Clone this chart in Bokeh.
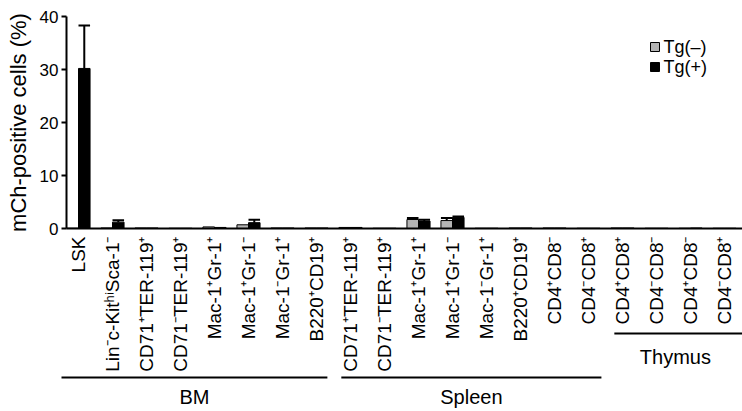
import math
from bokeh.plotting import figure
from bokeh.models import Range1d
from bokeh.core.properties import value
from bokeh.embed import file_html
from bokeh.resources import INLINE

categories = [
    "LSK", "Lin\u207bc-Kit\u02b0\u2071Sca-1\u207b", "CD71\u207aTER-119\u207a", "CD71\u207bTER-119\u207a",
    "Mac-1\u207aGr-1\u207a", "Mac-1\u207aGr-1\u207b", "Mac-1\u207bGr-1\u207a", "B220\u207aCD19\u207a",
    "CD71\u207aTER-119\u207a", "CD71\u207bTER-119\u207a", "Mac-1\u207aGr-1\u207a", "Mac-1\u207aGr-1\u207b",
    "Mac-1\u207bGr-1\u207a", "B220\u207aCD19\u207a", "CD4\u207aCD8\u207b", "CD4\u207bCD8\u207a",
    "CD4\u207aCD8\u207a", "CD4\u207bCD8\u207b", "CD4\u207aCD8\u207b", "CD4\u207bCD8\u207a",
]
tg_neg = [0.05, 0.1, 0.1, 0.05, 0.3, 0.7, 0.1, 0.1, 0.2, 0.05, 1.7, 1.5, 0.05, 0.1, 0.1, 0.05, 0.1, 0.05, 0.05, 0.05]
tg_pos = [30.2, 1.2, 0.1, 0.05, 0.2, 1.1, 0.1, 0.1, 0.2, 0.05, 1.4, 2.1, 0.05, 0.1, 0.1, 0.05, 0.1, 0.05, 0.1, 0.05]
tg_neg_err = [0, 0, 0, 0, 0, 0, 0, 0, 0, 0, 0.3, 0.5, 0, 0, 0, 0, 0, 0, 0, 0]
tg_pos_err = [8.1, 0.35, 0, 0, 0, 0.55, 0, 0, 0, 0, 0.25, 0.15, 0, 0, 0, 0, 0, 0, 0, 0]
y_ticks = [0, 10, 20, 30, 40]
y_tick_labels = ["0", "10", "20", "30", "40"]
y_title = "mCh-positive cells (%)"
groups = ["BM", "Spleen", "Thymus"]
group_first = [0, 8, 16]
group_last = [7, 15, 19]
legend_labels = ["Tg(\u2013)", "Tg(+)"]

# ---- layout (page pixels) ----
W, H = 742, 411
CX0, STEP = 78.0, 34.0      # pixel x of category 0 centre, pixels per category
Y0, PPU = 228.0, 5.3         # pixel y of value 0, pixels per unit
AXIS_X = 66.0


def dx(px):
    return (px - CX0) / STEP


def dy(py):
    return (Y0 - py) / PPU


FONT = "Liberation Sans"
GRAY = "#b4b4b4"
off = 0.17
bw = 0.34

p = figure(width=W, height=H, output_backend="svg", toolbar_location=None,
           x_range=Range1d(dx(0), dx(W)), y_range=Range1d(dy(H), dy(0)),
           min_border=0, min_border_left=0, min_border_right=0, min_border_top=0, min_border_bottom=0)
p.outline_line_color = None
p.xaxis.visible = False
p.yaxis.visible = False
p.grid.visible = False

xs = list(range(len(categories)))

p.vbar(x=[x - off for x in xs], top=tg_neg, width=bw, bottom=0,
       fill_color=GRAY, line_color="black", line_width=1)
p.vbar(x=[x + off for x in xs], top=tg_pos, width=bw, bottom=0,
       fill_color="black", line_color="black", line_width=1)

# error bars (upward only)
for sgn, vals, errs in ((-1, tg_neg, tg_neg_err), (1, tg_pos, tg_pos_err)):
    ex = [x + sgn * off for x, e in zip(xs, errs) if e > 0]
    ev = [v for v, e in zip(vals, errs) if e > 0]
    et = [v + e for v, e in zip(vals, errs) if e > 0]
    p.segment(x0=ex, y0=ev, x1=ex, y1=et, line_color="black", line_width=2)
    p.segment(x0=[x - off for x in ex], y0=et, x1=[x + off for x in ex], y1=et,
              line_color="black", line_width=2)

# x axis line
p.segment(x0=[dx(AXIS_X)], y0=[0], x1=[dx(W)], y1=[0], line_color="black", line_width=2)
# y axis line, ticks, labels
ax = dx(AXIS_X)
p.segment(x0=[ax], y0=[0], x1=[ax], y1=[y_ticks[-1]], line_color="black", line_width=2)
p.segment(x0=[dx(AXIS_X - 5)] * len(y_ticks), y0=y_ticks, x1=[ax] * len(y_ticks), y1=y_ticks,
          line_color="black", line_width=2)
p.text(x=[dx(AXIS_X - 8)] * len(y_ticks), y=y_ticks, text=y_tick_labels, text_font=value(FONT),
       text_font_size="17px", text_align="right", text_baseline="middle", text_color="black")
p.text(x=[dx(18)], y=[y_ticks[-1] / 2], text=[y_title], angle=math.pi / 2, text_font=value(FONT),
       text_font_size="22px", text_align="center", text_baseline="middle", text_color="black")

# category labels (vertical)
p.text(x=xs, y=[dy(Y0 + 8)] * len(xs), text=categories, angle=math.pi / 2, text_font=value(FONT),
       text_font_size="19px", text_align="right", text_baseline="middle", text_color="black")

# legend
leg_y = [dy(46.5), dy(66.5)]
p.scatter(x=[dx(654.5)] * 2, y=leg_y, marker="square", size=9,
          fill_color=[GRAY, "black"], line_color="black", line_width=1)
p.text(x=[dx(663)] * 2, y=leg_y, text=legend_labels, text_font=value(FONT),
       text_font_size="18px", text_baseline="middle", text_align="left", text_color="black")

# group brackets
line_py = [377, 377, 333]
text_py = [396, 396, 356]
x0s = [group_first[0] - 0.5, group_first[1] - 0.27, group_first[2] - 0.24]
x1s = [group_last[0] + 0.32, group_last[1] + 0.38, dx(W)]
p.segment(x0=x0s, y0=[dy(v) for v in line_py], x1=x1s, y1=[dy(v) for v in line_py],
          line_color="black", line_width=2)
text_x = [(x0s[0] + x1s[0]) / 2, (x0s[1] + x1s[1]) / 2, (x0s[2] + group_last[2] + 0.35) / 2]
p.text(x=text_x, y=[dy(v) for v in text_py], text=groups, text_font=value(FONT), text_font_size="20px",
       text_align="center", text_baseline="middle", text_color="black")

open("out.html", "w").write(file_html(p, INLINE))
